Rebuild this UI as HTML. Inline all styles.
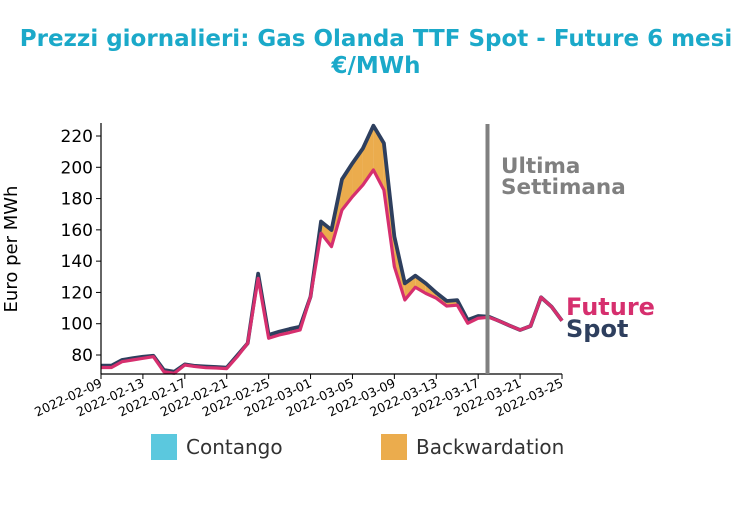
<!DOCTYPE html>
<html><head><meta charset="utf-8"><style>
body{margin:0;background:#fff;width:752px;height:504px;overflow:hidden;font-family:"DejaVu Sans","Liberation Sans",sans-serif}
</style></head><body>
<svg id="chart" width="752" height="504" viewBox="0 0 752 504" xmlns="http://www.w3.org/2000/svg" font-family="DejaVu Sans, Liberation Sans, sans-serif">
<text x="376" y="46" text-anchor="middle" font-size="23" font-weight="bold" fill="#1ba9c9">Prezzi giornalieri: Gas Olanda TTF Spot - Future 6 mesi</text>
<text x="376" y="73" text-anchor="middle" font-size="23" font-weight="bold" fill="#1ba9c9">€/MWh</text>
<text transform="translate(17,249) rotate(-90)" text-anchor="middle" font-size="18" fill="#000">Euro per MWh</text>
<g id="areas"></g><g id="lines"></g><g id="axes"></g>
<line x1="487.5" y1="124" x2="487.5" y2="374" stroke="#808080" stroke-width="4"/>
<text x="501" y="173" font-size="21.5" font-weight="bold" fill="#808080">Ultima</text>
<text x="501" y="194" font-size="21.5" font-weight="bold" fill="#808080">Settimana</text>
<text x="566" y="315" font-size="24" font-weight="bold" fill="#d62f6e">Future</text>
<text x="566" y="337" font-size="24" font-weight="bold" fill="#2e3f5e">Spot</text>
<rect x="151" y="434" width="26" height="26" fill="#5bc8de"/>
<text x="186" y="454" font-size="20" fill="#333">Contango</text>
<rect x="381" y="434" width="26" height="26" fill="#ebac4d"/>
<text x="416" y="454" font-size="20" fill="#333">Backwardation</text>
</svg>
<script>
const spotValues=[73.2,73.2,76.8,77.9,78.9,79.5,70.4,69.3,74.0,73.0,72.6,72.3,71.9,79.7,87.5,132,92.8,94.9,96.6,98.1,117.3,165.3,159.9,192.3,202.6,212.1,226.6,215.4,155.7,125.8,130.7,125.8,119.8,114.5,115.1,102.4,104.9,104.5,101.7,98.8,96,98.5,116.9,110.9,101.9];
const futureValues=[72,72,75.7,76.8,77.9,78.9,69.3,68.3,73.6,72.6,71.9,71.7,71.3,78.9,87.5,129,90.7,92.8,94.3,96,117.3,157.8,149.3,172.7,181.2,188.7,198.3,185.5,136.5,115.2,123.3,119.4,116.3,111.3,111.9,100.3,103.5,104.1,101.7,98.8,96,98.5,116.9,110.9,101.9];
const yTicks=[80,100,120,140,160,180,200,220];
const xTickLabels=["2022-02-09","2022-02-13","2022-02-17","2022-02-21","2022-02-25","2022-03-01","2022-03-05","2022-03-09","2022-03-13","2022-03-17","2022-03-21","2022-03-25"];
const NS="http://www.w3.org/2000/svg";
const x0=101,x1=562,nDays=44;
const xs=i=>x0+(x1-x0)*i/nDays;
const ys=v=>355-(v-80)*(355-136)/140;
function mk(t,a,p){const e=document.createElementNS(NS,t);for(const k in a)e.setAttribute(k,a[k]);p.appendChild(e);return e;}
const areas=document.getElementById('areas'),lines=document.getElementById('lines'),axes=document.getElementById('axes');
for(let i=0;i<spotValues.length-1;i++){
  const d=(spotValues[i]-futureValues[i])+(spotValues[i+1]-futureValues[i+1]);
  if(Math.abs(d)<0.01)continue;
  const p=mk('polygon',{points:`${xs(i)},${ys(spotValues[i])} ${xs(i+1)},${ys(spotValues[i+1])} ${xs(i+1)},${ys(futureValues[i+1])} ${xs(i)},${ys(futureValues[i])}`,fill:d>0?'#ebac4d':'#5bc8de'},areas);
  
  
}
const sp=mk('polyline',{points:spotValues.map((v,i)=>xs(i)+','+ys(v)).join(' '),fill:'none',stroke:'#2e3f5e','stroke-width':3.8,'stroke-linejoin':'round'},lines);


const fu=mk('polyline',{points:futureValues.map((v,i)=>xs(i)+','+ys(v)).join(' '),fill:'none',stroke:'#d62f6e','stroke-width':3.2,'stroke-linejoin':'round'},lines);


const ya=mk('line',{x1:x0,y1:123,x2:x0,y2:374,stroke:'#000','stroke-width':1.2},axes);


const xa=mk('line',{x1:x0,y1:374,x2:x1,y2:374,stroke:'#000','stroke-width':1.2},axes);


yTicks.forEach(v=>{
  mk('line',{x1:x0-5,y1:ys(v),x2:x0,y2:ys(v),stroke:'#000'},axes);
  const t=mk('text',{x:x0-8,y:ys(v)+6,'text-anchor':'end','font-size':17,fill:'#000'},axes);
  t.textContent=v;
  
  
});
xTickLabels.forEach((s,k)=>{
  const x=xs(k*4);
  mk('line',{x1:x,y1:374,x2:x,y2:379,stroke:'#000'},axes);
  const t=mk('text',{transform:`translate(${x+2},${386}) rotate(-25)`,'text-anchor':'end','font-size':12.5,fill:'#000'},axes);
  t.textContent=s;
  
  
});
</script>
</body></html>
